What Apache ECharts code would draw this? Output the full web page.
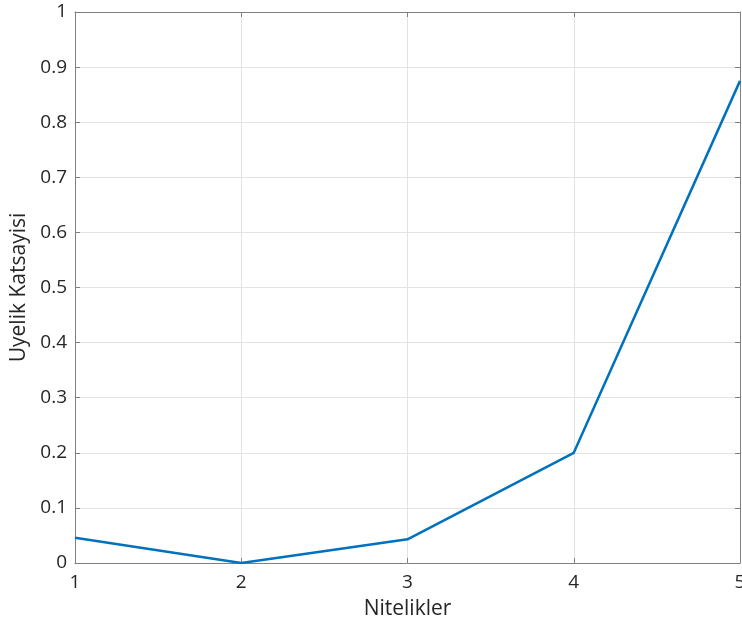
<!doctype html>
<html>
<head>
    <meta charset="utf-8">
    <title>Uyelik Katsayisi</title>
    <script src="https://cdn.jsdelivr.net/npm/echarts@6/dist/echarts.min.js"></script>
</head>
<body style="margin:0;padding:0">
    <div id="chart" style="width:742px;height:626px"></div>
    <script>
        // nitelikler ve uyelik degerleri
        var nitelikler = [1, 2, 3, 4, 5];
        var uyelik = [0.046, 0, 0.043, 0.2, 0.875];

        var points = nitelikler.map(function (x, i) { return [x, uyelik[i]]; });

        var textColor = '#262626';
        var axisColor = '#808080';
        var font = '"Open Sans", sans-serif';

        var chart = echarts.init(document.getElementById('chart'));

        // kutu cizgileri icin ust/sag eksen (etiketsiz)
        function boxAxis(pos, min, max, interval) {
            return {
                type: 'value', position: pos, min: min, max: max, interval: interval,
                axisLine: { show: true, onZero: false, lineStyle: { color: axisColor, width: 1 } },
                axisTick: { show: true, inside: true, length: 5, lineStyle: { color: axisColor } },
                axisLabel: { show: false },
                splitLine: { show: false }
            };
        }

        chart.setOption({
            animation: false,
            grid: { left: 75, right: 2, top: 12, bottom: 63, containLabel: false, outerBoundsMode: 'none' },
            xAxis: [{
                type: 'value',
                min: 1, max: 5, interval: 1,
                name: 'Nitelikler',
                nameLocation: 'middle',
                nameGap: 36,
                nameTextStyle: { color: textColor, fontSize: 21, fontFamily: font },
                axisLine: { onZero: false, lineStyle: { color: axisColor, width: 1 } },
                axisTick: { inside: true, length: 5, lineStyle: { color: axisColor } },
                axisLabel: { color: textColor, fontSize: 19, fontFamily: font, margin: 10 },
                splitLine: { show: true, lineStyle: { color: '#e3e3e3', width: 1 } }
            }, boxAxis('top', 1, 5, 1)],
            yAxis: [{
                type: 'value',
                min: 0, max: 1, interval: 0.1,
                name: 'Uyelik Katsayisi',
                nameLocation: 'middle',
                nameGap: 45,
                nameTextStyle: { color: textColor, fontSize: 21, fontFamily: font },
                axisLine: { show: true, lineStyle: { color: axisColor, width: 1 } },
                axisTick: { show: true, inside: true, length: 5, lineStyle: { color: axisColor } },
                axisLabel: { color: textColor, fontSize: 19, fontFamily: font, margin: 8 },
                splitLine: { show: true, lineStyle: { color: '#e3e3e3', width: 1 } }
            }, boxAxis('right', 0, 1, 0.1)],
            series: [{
                type: 'line',
                data: points,
                showSymbol: false,
                lineStyle: { color: '#0072bd', width: 2.5 },
                itemStyle: { color: '#0072bd' }
            }]
        });
    </script>
</body>
</html>
